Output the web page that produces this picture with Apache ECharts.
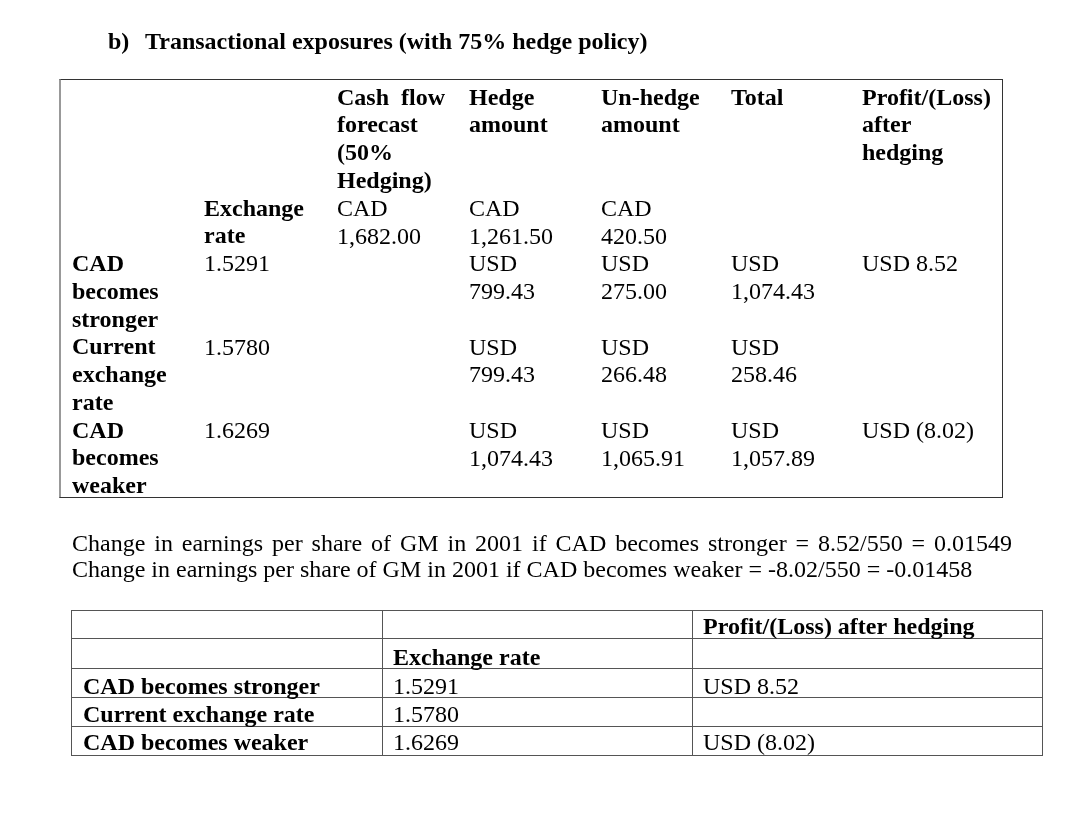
<!DOCTYPE html>
<html>
<head>
<meta charset="utf-8">
<script src="https://cdn.jsdelivr.net/npm/echarts@6/dist/echarts.min.js"></script>
<style>
html,body{margin:0;padding:0;background:#fff;}
#chart{width:1074px;height:828px;}
</style>
</head>
<body>
<div id="chart"></div>
<script>
// ---- data ----
const titleLabel = 'b)';
const titleText = 'Transactional exposures (with 75% hedge policy)';
const headerLines = [
  ['Cash  flow', 'forecast', '(50%', 'Hedging)'],
  ['Hedge', 'amount'],
  ['Un-hedge', 'amount'],
  ['Total'],
  ['Profit/(Loss)', 'after', 'hedging']
];
const rateHeader = ['Exchange', 'rate'];
const cadAmounts = ['1,682.00', '1,261.50', '420.50']; // cash flow, hedge, un-hedge (CAD)
const scenarioLines = [
  ['CAD', 'becomes', 'stronger'],
  ['Current', 'exchange', 'rate'],
  ['CAD', 'becomes', 'weaker']
];
const exchangeRates = ['1.5291', '1.5780', '1.6269'];
const hedgeUSD = ['799.43', '799.43', '1,074.43'];
const unhedgeUSD = ['275.00', '266.48', '1,065.91'];
const totalUSD = ['1,074.43', '258.46', '1,057.89'];
const profitUSD = ['8.52', '', '(8.02)'];
const epsLines = [
  'Change in earnings per share of GM in 2001 if CAD becomes stronger = 8.52/550 = 0.01549',
  'Change in earnings per share of GM in 2001 if CAD becomes weaker = -8.02/550 = -0.01458'
];
const table2Headers = ['Exchange rate', 'Profit/(Loss) after hedging'];

// ---- layout ----
const FAM = '"Liberation Serif", "Times New Roman", serif';
const REG = '24px ' + FAM;
const BOLD = 'bold 24px ' + FAM;
const BASE_OFF = 4.5; // baseline offset from middle
const els = [];
function txt(s, x, baseline, bold) {
  if (!s) return;
  els.push({type: 'text', silent: true, style: {text: s, x: x, y: baseline - BASE_OFF, font: bold ? BOLD : REG, fill: '#000', textVerticalAlign: 'middle', textAlign: 'left'}});
}
function line(x1, y1, x2, y2, color, w) {
  els.push({type: 'line', silent: true, shape: {x1, y1, x2, y2}, style: {stroke: color, lineWidth: w}});
}

// title
txt(titleLabel, 108, 47, true);
txt(titleText, 145, 47, true);

// table 1
const colX = [72, 204, 337, 469, 601, 731, 862];
const bl = i => 103 + 27.75 * i;
headerLines.forEach((lines, c) => lines.forEach((s, i) => txt(s, colX[c + 2], bl(i), true)));
rateHeader.forEach((s, i) => txt(s, colX[1], bl(4 + i), true));
cadAmounts.forEach((v, c) => { txt('CAD', colX[c + 2], bl(4)); txt(v, colX[c + 2], bl(5)); });
scenarioLines.forEach((lines, r) => {
  const start = 6 + 3 * r;
  lines.forEach((s, i) => txt(s, colX[0], bl(start + i), true));
  txt(exchangeRates[r], colX[1], bl(start));
  [hedgeUSD, unhedgeUSD, totalUSD].forEach((arr, c) => {
    txt('USD', colX[c + 3], bl(start));
    txt(arr[r], colX[c + 3], bl(start + 1));
  });
  if (profitUSD[r]) txt('USD ' + profitUSD[r], colX[6], bl(start));
});
line(59.5, 79.5, 1002.5, 79.5, '#333', 1);
line(60, 79, 60, 498, '#777', 1.5);
line(1002.5, 79, 1002.5, 498, '#333', 1);
line(59.5, 497.5, 1002.5, 497.5, '#333', 1);

// paragraph
const ctx = document.createElement('canvas').getContext('2d');
ctx.font = REG;
(function () {
  const words = epsLines[0].split(' ');
  const widths = words.map(w => ctx.measureText(w).width);
  const total = widths.reduce((a, b) => a + b, 0);
  const gap = (1012 - 72 - total) / (words.length - 1);
  let x = 72;
  words.forEach((w, i) => { txt(w, x, 549); x += widths[i] + gap; });
})();
txt(epsLines[1], 72, 575);

// table 2
const t2Rows = [610.5, 638.5, 668.5, 697.5, 726.5, 755.5];
const t2Cols = [71.5, 382.5, 692.5, 1042.5];
t2Rows.forEach(y => line(71, y, 1043, y, '#555', 1));
t2Cols.forEach(x => line(x, 610, x, 756, '#555', 1));
const t2X = [83, 393, 703];
const t2Base = [632, 663, 692, 720, 748];
txt(table2Headers[1], t2X[2], t2Base[0], true);
txt(table2Headers[0], t2X[1], t2Base[1], true);
scenarioLines.forEach((lines, r) => {
  txt(lines.join(' '), t2X[0], t2Base[2 + r], true);
  txt(exchangeRates[r], t2X[1], t2Base[2 + r]);
  if (profitUSD[r]) txt('USD ' + profitUSD[r], t2X[2], t2Base[2 + r]);
});

const chart = echarts.init(document.getElementById('chart'), null, {renderer: 'canvas'});
chart.setOption({animation: false, backgroundColor: '#fff', graphic: {elements: els}});
</script>
</body>
</html>
